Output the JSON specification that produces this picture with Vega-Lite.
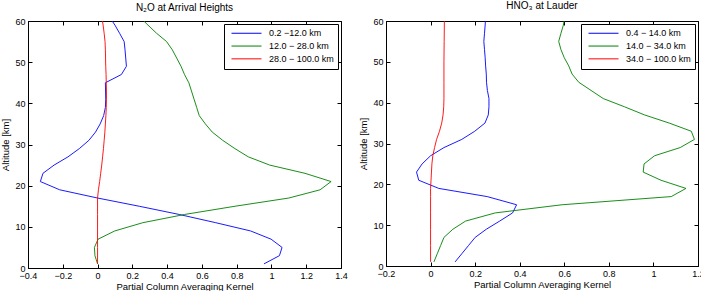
{
  "$schema": "https://vega.github.io/schema/vega-lite/v6.json",
  "padding": {"left": 0, "top": 0, "right": 0, "bottom": 0},
  "background": "white",
  "config": {
    "font": "Liberation Sans",
    "view": {"stroke": "black", "strokeWidth": 1},
    "axis": {
      "grid": false, "tickSize": -4, "labelPadding": 7, "domainColor": "black", "tickColor": "black",
      "labelColor": "black", "titleColor": "black", "labelFont": "Liberation Sans", "titleFont": "Liberation Sans",
      "labelFontSize": 9, "titleFontSize": 9.5, "titleFontWeight": "normal", "domainWidth": 1, "tickWidth": 1,
      "labelFlush": false
    },
    "axisX": {"titlePadding": 1},
    "legend": {
      "orient": "top-right", "offset": 3, "strokeColor": "black", "fillColor": "white", "padding": 4,
      "labelFont": "Liberation Sans", "labelFontSize": 9, "labelColor": "black", "symbolType": "stroke",
      "symbolSize": 900, "symbolStrokeWidth": 1, "symbolOffset": 3, "clipHeight": 10.5, "rowPadding": 1.8,
      "labelOffset": 7, "title": null
    },
    "title": {"font": "Liberation Sans", "fontSize": 10, "fontWeight": "normal", "color": "black", "offset": 4}
  },
  "datasets": {
    "L": [
      {"s": "0.2 −12.0 km", "a": 1, "k": 0.957}, {"s": "0.2 −12.0 km", "a": 3, "k": 1.046}, {"s": "0.2 −12.0 km", "a": 5, "k": 1.061},
      {"s": "0.2 −12.0 km", "a": 7, "k": 0.998}, {"s": "0.2 −12.0 km", "a": 9, "k": 0.88}, {"s": "0.2 −12.0 km", "a": 11, "k": 0.68},
      {"s": "0.2 −12.0 km", "a": 13, "k": 0.47}, {"s": "0.2 −12.0 km", "a": 15, "k": 0.24}, {"s": "0.2 −12.0 km", "a": 17, "k": 0.0},
      {"s": "0.2 −12.0 km", "a": 19, "k": -0.218}, {"s": "0.2 −12.0 km", "a": 21, "k": -0.329}, {"s": "0.2 −12.0 km", "a": 23, "k": -0.314},
      {"s": "0.2 −12.0 km", "a": 25, "k": -0.25}, {"s": "0.2 −12.0 km", "a": 27, "k": -0.17}, {"s": "0.2 −12.0 km", "a": 29, "k": -0.105},
      {"s": "0.2 −12.0 km", "a": 31, "k": -0.05}, {"s": "0.2 −12.0 km", "a": 33, "k": -0.012}, {"s": "0.2 −12.0 km", "a": 35, "k": 0.015},
      {"s": "0.2 −12.0 km", "a": 37, "k": 0.035}, {"s": "0.2 −12.0 km", "a": 39, "k": 0.045}, {"s": "0.2 −12.0 km", "a": 41, "k": 0.047},
      {"s": "0.2 −12.0 km", "a": 43, "k": 0.046}, {"s": "0.2 −12.0 km", "a": 45, "k": 0.045}, {"s": "0.2 −12.0 km", "a": 47, "k": 0.137},
      {"s": "0.2 −12.0 km", "a": 49, "k": 0.166}, {"s": "0.2 −12.0 km", "a": 51, "k": 0.162}, {"s": "0.2 −12.0 km", "a": 53, "k": 0.158},
      {"s": "0.2 −12.0 km", "a": 55, "k": 0.153}, {"s": "0.2 −12.0 km", "a": 57, "k": 0.127}, {"s": "0.2 −12.0 km", "a": 59, "k": 0.1},
      {"s": "0.2 −12.0 km", "a": 60, "k": 0.084},
      {"s": "12.0 − 28.0 km", "a": 1, "k": 0.0}, {"s": "12.0 − 28.0 km", "a": 3, "k": -0.015}, {"s": "12.0 − 28.0 km", "a": 5, "k": -0.018},
      {"s": "12.0 − 28.0 km", "a": 7, "k": 0.003}, {"s": "12.0 − 28.0 km", "a": 9, "k": 0.099}, {"s": "12.0 − 28.0 km", "a": 11, "k": 0.26},
      {"s": "12.0 − 28.0 km", "a": 13, "k": 0.5}, {"s": "12.0 − 28.0 km", "a": 15, "k": 0.79}, {"s": "12.0 − 28.0 km", "a": 17, "k": 1.1},
      {"s": "12.0 − 28.0 km", "a": 19, "k": 1.28}, {"s": "12.0 − 28.0 km", "a": 21, "k": 1.343}, {"s": "12.0 − 28.0 km", "a": 23, "k": 1.193},
      {"s": "12.0 − 28.0 km", "a": 25, "k": 0.99}, {"s": "12.0 − 28.0 km", "a": 27, "k": 0.867}, {"s": "12.0 − 28.0 km", "a": 29, "k": 0.79},
      {"s": "12.0 − 28.0 km", "a": 31, "k": 0.72}, {"s": "12.0 − 28.0 km", "a": 33, "k": 0.66}, {"s": "12.0 − 28.0 km", "a": 35, "k": 0.62},
      {"s": "12.0 − 28.0 km", "a": 37, "k": 0.585}, {"s": "12.0 − 28.0 km", "a": 39, "k": 0.57}, {"s": "12.0 − 28.0 km", "a": 41, "k": 0.555},
      {"s": "12.0 − 28.0 km", "a": 43, "k": 0.54}, {"s": "12.0 − 28.0 km", "a": 45, "k": 0.525}, {"s": "12.0 − 28.0 km", "a": 47, "k": 0.5},
      {"s": "12.0 − 28.0 km", "a": 49, "k": 0.48}, {"s": "12.0 − 28.0 km", "a": 51, "k": 0.455}, {"s": "12.0 − 28.0 km", "a": 53, "k": 0.43},
      {"s": "12.0 − 28.0 km", "a": 55, "k": 0.397}, {"s": "12.0 − 28.0 km", "a": 57, "k": 0.34}, {"s": "12.0 − 28.0 km", "a": 59, "k": 0.29},
      {"s": "12.0 − 28.0 km", "a": 60, "k": 0.266},
      {"s": "28.0 − 100.0 km", "a": 1, "k": 0.0}, {"s": "28.0 − 100.0 km", "a": 5, "k": 0.0}, {"s": "28.0 − 100.0 km", "a": 9, "k": 0.0},
      {"s": "28.0 − 100.0 km", "a": 13, "k": 0.0}, {"s": "28.0 − 100.0 km", "a": 17, "k": 0.0}, {"s": "28.0 − 100.0 km", "a": 19, "k": 0.005},
      {"s": "28.0 − 100.0 km", "a": 21, "k": 0.012}, {"s": "28.0 − 100.0 km", "a": 23, "k": 0.018}, {"s": "28.0 − 100.0 km", "a": 25, "k": 0.024},
      {"s": "28.0 − 100.0 km", "a": 27, "k": 0.029}, {"s": "28.0 − 100.0 km", "a": 29, "k": 0.034}, {"s": "28.0 − 100.0 km", "a": 31, "k": 0.038},
      {"s": "28.0 − 100.0 km", "a": 33, "k": 0.042}, {"s": "28.0 − 100.0 km", "a": 35, "k": 0.045}, {"s": "28.0 − 100.0 km", "a": 37, "k": 0.048},
      {"s": "28.0 − 100.0 km", "a": 39, "k": 0.05}, {"s": "28.0 − 100.0 km", "a": 41, "k": 0.051}, {"s": "28.0 − 100.0 km", "a": 43, "k": 0.051},
      {"s": "28.0 − 100.0 km", "a": 45, "k": 0.05}, {"s": "28.0 − 100.0 km", "a": 47, "k": 0.049}, {"s": "28.0 − 100.0 km", "a": 49, "k": 0.047},
      {"s": "28.0 − 100.0 km", "a": 51, "k": 0.046}, {"s": "28.0 − 100.0 km", "a": 53, "k": 0.045}, {"s": "28.0 − 100.0 km", "a": 55, "k": 0.043},
      {"s": "28.0 − 100.0 km", "a": 57, "k": 0.038}, {"s": "28.0 − 100.0 km", "a": 59, "k": 0.032}, {"s": "28.0 − 100.0 km", "a": 60, "k": 0.028}
    ],
    "R": [
      {"s": "\u00a0\u00a0\u00a0\u00a00.4 − 14.0 km", "a": 1, "k": 0.11}, {"s": "\u00a0\u00a0\u00a0\u00a00.4 − 14.0 km", "a": 3, "k": 0.14}, {"s": "\u00a0\u00a0\u00a0\u00a00.4 − 14.0 km", "a": 5, "k": 0.17},
      {"s": "\u00a0\u00a0\u00a0\u00a00.4 − 14.0 km", "a": 7, "k": 0.2}, {"s": "\u00a0\u00a0\u00a0\u00a00.4 − 14.0 km", "a": 9, "k": 0.25}, {"s": "\u00a0\u00a0\u00a0\u00a00.4 − 14.0 km", "a": 11, "k": 0.31},
      {"s": "\u00a0\u00a0\u00a0\u00a00.4 − 14.0 km", "a": 13, "k": 0.368}, {"s": "\u00a0\u00a0\u00a0\u00a00.4 − 14.0 km", "a": 15, "k": 0.386}, {"s": "\u00a0\u00a0\u00a0\u00a00.4 − 14.0 km", "a": 17, "k": 0.254},
      {"s": "\u00a0\u00a0\u00a0\u00a00.4 − 14.0 km", "a": 19, "k": 0.037}, {"s": "\u00a0\u00a0\u00a0\u00a00.4 − 14.0 km", "a": 21, "k": -0.053}, {"s": "\u00a0\u00a0\u00a0\u00a00.4 − 14.0 km", "a": 23, "k": -0.063},
      {"s": "\u00a0\u00a0\u00a0\u00a00.4 − 14.0 km", "a": 25, "k": -0.038}, {"s": "\u00a0\u00a0\u00a0\u00a00.4 − 14.0 km", "a": 27, "k": 0.0}, {"s": "\u00a0\u00a0\u00a0\u00a00.4 − 14.0 km", "a": 29, "k": 0.06},
      {"s": "\u00a0\u00a0\u00a0\u00a00.4 − 14.0 km", "a": 31, "k": 0.14}, {"s": "\u00a0\u00a0\u00a0\u00a00.4 − 14.0 km", "a": 33, "k": 0.198}, {"s": "\u00a0\u00a0\u00a0\u00a00.4 − 14.0 km", "a": 35, "k": 0.244},
      {"s": "\u00a0\u00a0\u00a0\u00a00.4 − 14.0 km", "a": 37, "k": 0.259}, {"s": "\u00a0\u00a0\u00a0\u00a00.4 − 14.0 km", "a": 39, "k": 0.262}, {"s": "\u00a0\u00a0\u00a0\u00a00.4 − 14.0 km", "a": 41, "k": 0.262},
      {"s": "\u00a0\u00a0\u00a0\u00a00.4 − 14.0 km", "a": 43, "k": 0.255}, {"s": "\u00a0\u00a0\u00a0\u00a00.4 − 14.0 km", "a": 45, "k": 0.251}, {"s": "\u00a0\u00a0\u00a0\u00a00.4 − 14.0 km", "a": 47, "k": 0.25},
      {"s": "\u00a0\u00a0\u00a0\u00a00.4 − 14.0 km", "a": 49, "k": 0.247}, {"s": "\u00a0\u00a0\u00a0\u00a00.4 − 14.0 km", "a": 51, "k": 0.245}, {"s": "\u00a0\u00a0\u00a0\u00a00.4 − 14.0 km", "a": 53, "k": 0.242},
      {"s": "\u00a0\u00a0\u00a0\u00a00.4 − 14.0 km", "a": 55, "k": 0.239}, {"s": "\u00a0\u00a0\u00a0\u00a00.4 − 14.0 km", "a": 57, "k": 0.242}, {"s": "\u00a0\u00a0\u00a0\u00a00.4 − 14.0 km", "a": 59, "k": 0.245},
      {"s": "\u00a0\u00a0\u00a0\u00a00.4 − 14.0 km", "a": 60, "k": 0.246},
      {"s": "14.0 − 34.0 km", "a": 1, "k": 0.015}, {"s": "14.0 − 34.0 km", "a": 3, "k": 0.03}, {"s": "14.0 − 34.0 km", "a": 5, "k": 0.045},
      {"s": "14.0 − 34.0 km", "a": 7, "k": 0.06}, {"s": "14.0 − 34.0 km", "a": 9, "k": 0.1}, {"s": "14.0 − 34.0 km", "a": 11, "k": 0.157},
      {"s": "14.0 − 34.0 km", "a": 13, "k": 0.29}, {"s": "14.0 − 34.0 km", "a": 15, "k": 0.59}, {"s": "14.0 − 34.0 km", "a": 17, "k": 1.08},
      {"s": "14.0 − 34.0 km", "a": 19, "k": 1.146}, {"s": "14.0 − 34.0 km", "a": 21, "k": 1.034}, {"s": "14.0 − 34.0 km", "a": 23, "k": 0.954},
      {"s": "14.0 − 34.0 km", "a": 25, "k": 0.958}, {"s": "14.0 − 34.0 km", "a": 27, "k": 1.005}, {"s": "14.0 − 34.0 km", "a": 29, "k": 1.12},
      {"s": "14.0 − 34.0 km", "a": 31, "k": 1.184}, {"s": "14.0 − 34.0 km", "a": 33, "k": 1.17}, {"s": "14.0 − 34.0 km", "a": 35, "k": 1.071},
      {"s": "14.0 − 34.0 km", "a": 37, "k": 0.96}, {"s": "14.0 − 34.0 km", "a": 39, "k": 0.87}, {"s": "14.0 − 34.0 km", "a": 41, "k": 0.775},
      {"s": "14.0 − 34.0 km", "a": 43, "k": 0.72}, {"s": "14.0 − 34.0 km", "a": 45, "k": 0.665}, {"s": "14.0 − 34.0 km", "a": 47, "k": 0.635},
      {"s": "14.0 − 34.0 km", "a": 49, "k": 0.62}, {"s": "14.0 − 34.0 km", "a": 51, "k": 0.6}, {"s": "14.0 − 34.0 km", "a": 53, "k": 0.585},
      {"s": "14.0 − 34.0 km", "a": 55, "k": 0.575}, {"s": "14.0 − 34.0 km", "a": 57, "k": 0.585}, {"s": "14.0 − 34.0 km", "a": 59, "k": 0.596},
      {"s": "14.0 − 34.0 km", "a": 60, "k": 0.599},
      {"s": "34.0 − 100.0 km", "a": 1, "k": 0.0}, {"s": "34.0 − 100.0 km", "a": 5, "k": 0.0}, {"s": "34.0 − 100.0 km", "a": 9, "k": 0.0},
      {"s": "34.0 − 100.0 km", "a": 13, "k": 0.0}, {"s": "34.0 − 100.0 km", "a": 17, "k": 0.0}, {"s": "34.0 − 100.0 km", "a": 19, "k": 0.0},
      {"s": "34.0 − 100.0 km", "a": 21, "k": 0.002}, {"s": "34.0 − 100.0 km", "a": 23, "k": 0.004}, {"s": "34.0 − 100.0 km", "a": 25, "k": 0.006},
      {"s": "34.0 − 100.0 km", "a": 27, "k": 0.01}, {"s": "34.0 − 100.0 km", "a": 29, "k": 0.018}, {"s": "34.0 − 100.0 km", "a": 31, "k": 0.027},
      {"s": "34.0 − 100.0 km", "a": 33, "k": 0.04}, {"s": "34.0 − 100.0 km", "a": 35, "k": 0.05}, {"s": "34.0 − 100.0 km", "a": 37, "k": 0.056},
      {"s": "34.0 − 100.0 km", "a": 39, "k": 0.059}, {"s": "34.0 − 100.0 km", "a": 41, "k": 0.06}, {"s": "34.0 − 100.0 km", "a": 45, "k": 0.06},
      {"s": "34.0 − 100.0 km", "a": 50, "k": 0.06}, {"s": "34.0 − 100.0 km", "a": 55, "k": 0.061}, {"s": "34.0 − 100.0 km", "a": 60, "k": 0.062}
    ]
  },
  "spacing": 10,
  "resolve": {"scale": {"color": "independent", "x": "independent", "y": "independent"}},
  "hconcat": [
    {
      "width": 313, "height": 247,
      "title": {"text": "N₂O at Arrival Heights"},
      "data": {"name": "L"},
      "layer": [
        {
          "mark": {"type": "line", "strokeWidth": 0.9, "clip": true},
          "encoding": {
            "x": {"field": "k", "type": "quantitative", "scale": {"domain": [-0.4, 1.4], "nice": false, "zero": false},
                  "axis": {"title": "Partial Column Averaging Kernel", "values": [-0.4, -0.2, 0, 0.2, 0.4, 0.6, 0.8, 1, 1.2, 1.4], "format": "~g"}},
            "y": {"field": "a", "type": "quantitative", "scale": {"domain": [0, 60], "nice": false},
                  "axis": {"title": "Altitude [km]", "values": [0, 10, 20, 30, 40, 50, 60]}},
            "color": {"field": "s", "type": "nominal",
                      "scale": {"domain": ["0.2 −12.0 km", "12.0 − 28.0 km", "28.0 − 100.0 km"], "range": ["#0000ff", "#008000", "#ff0000"]}},
            "order": {"field": "a", "type": "quantitative"}
          }
        },
        {
          "mark": {"type": "point", "opacity": 0},
          "encoding": {
            "x": {"field": "k", "type": "quantitative", "axis": {"orient": "top", "labels": false, "domain": false, "title": null, "values": [-0.4, -0.2, 0, 0.2, 0.4, 0.6, 0.8, 1, 1.2, 1.4]}},
            "y": {"field": "a", "type": "quantitative", "axis": {"orient": "right", "labels": false, "domain": false, "title": null, "values": [0, 10, 20, 30, 40, 50, 60]}}
          }
        }
      ],
      "resolve": {"axis": {"x": "independent", "y": "independent"}}
    },
    {
      "width": 312, "height": 245,
      "title": {"text": "HNO₃ at Lauder", "offset": 6},
      "data": {"name": "R"},
      "layer": [
        {
          "mark": {"type": "line", "strokeWidth": 0.9, "clip": true},
          "encoding": {
            "x": {"field": "k", "type": "quantitative", "scale": {"domain": [-0.2, 1.2], "nice": false, "zero": false},
                  "axis": {"title": "Partial Column Averaging Kernel", "values": [-0.2, 0, 0.2, 0.4, 0.6, 0.8, 1, 1.2], "format": "~g"}},
            "y": {"field": "a", "type": "quantitative", "scale": {"domain": [0, 60], "nice": false},
                  "axis": {"title": "Altitude [km]", "values": [0, 10, 20, 30, 40, 50, 60]}},
            "color": {"field": "s", "type": "nominal",
                      "scale": {"domain": ["\u00a0\u00a0\u00a0\u00a00.4 − 14.0 km", "14.0 − 34.0 km", "34.0 − 100.0 km"], "range": ["#0000ff", "#008000", "#ff0000"]}},
            "order": {"field": "a", "type": "quantitative"}
          }
        },
        {
          "mark": {"type": "point", "opacity": 0},
          "encoding": {
            "x": {"field": "k", "type": "quantitative", "axis": {"orient": "top", "labels": false, "domain": false, "title": null, "values": [-0.2, 0, 0.2, 0.4, 0.6, 0.8, 1, 1.2]}},
            "y": {"field": "a", "type": "quantitative", "axis": {"orient": "right", "labels": false, "domain": false, "title": null, "values": [0, 10, 20, 30, 40, 50, 60]}}
          }
        }
      ],
      "resolve": {"axis": {"x": "independent", "y": "independent"}}
    }
  ]
}
